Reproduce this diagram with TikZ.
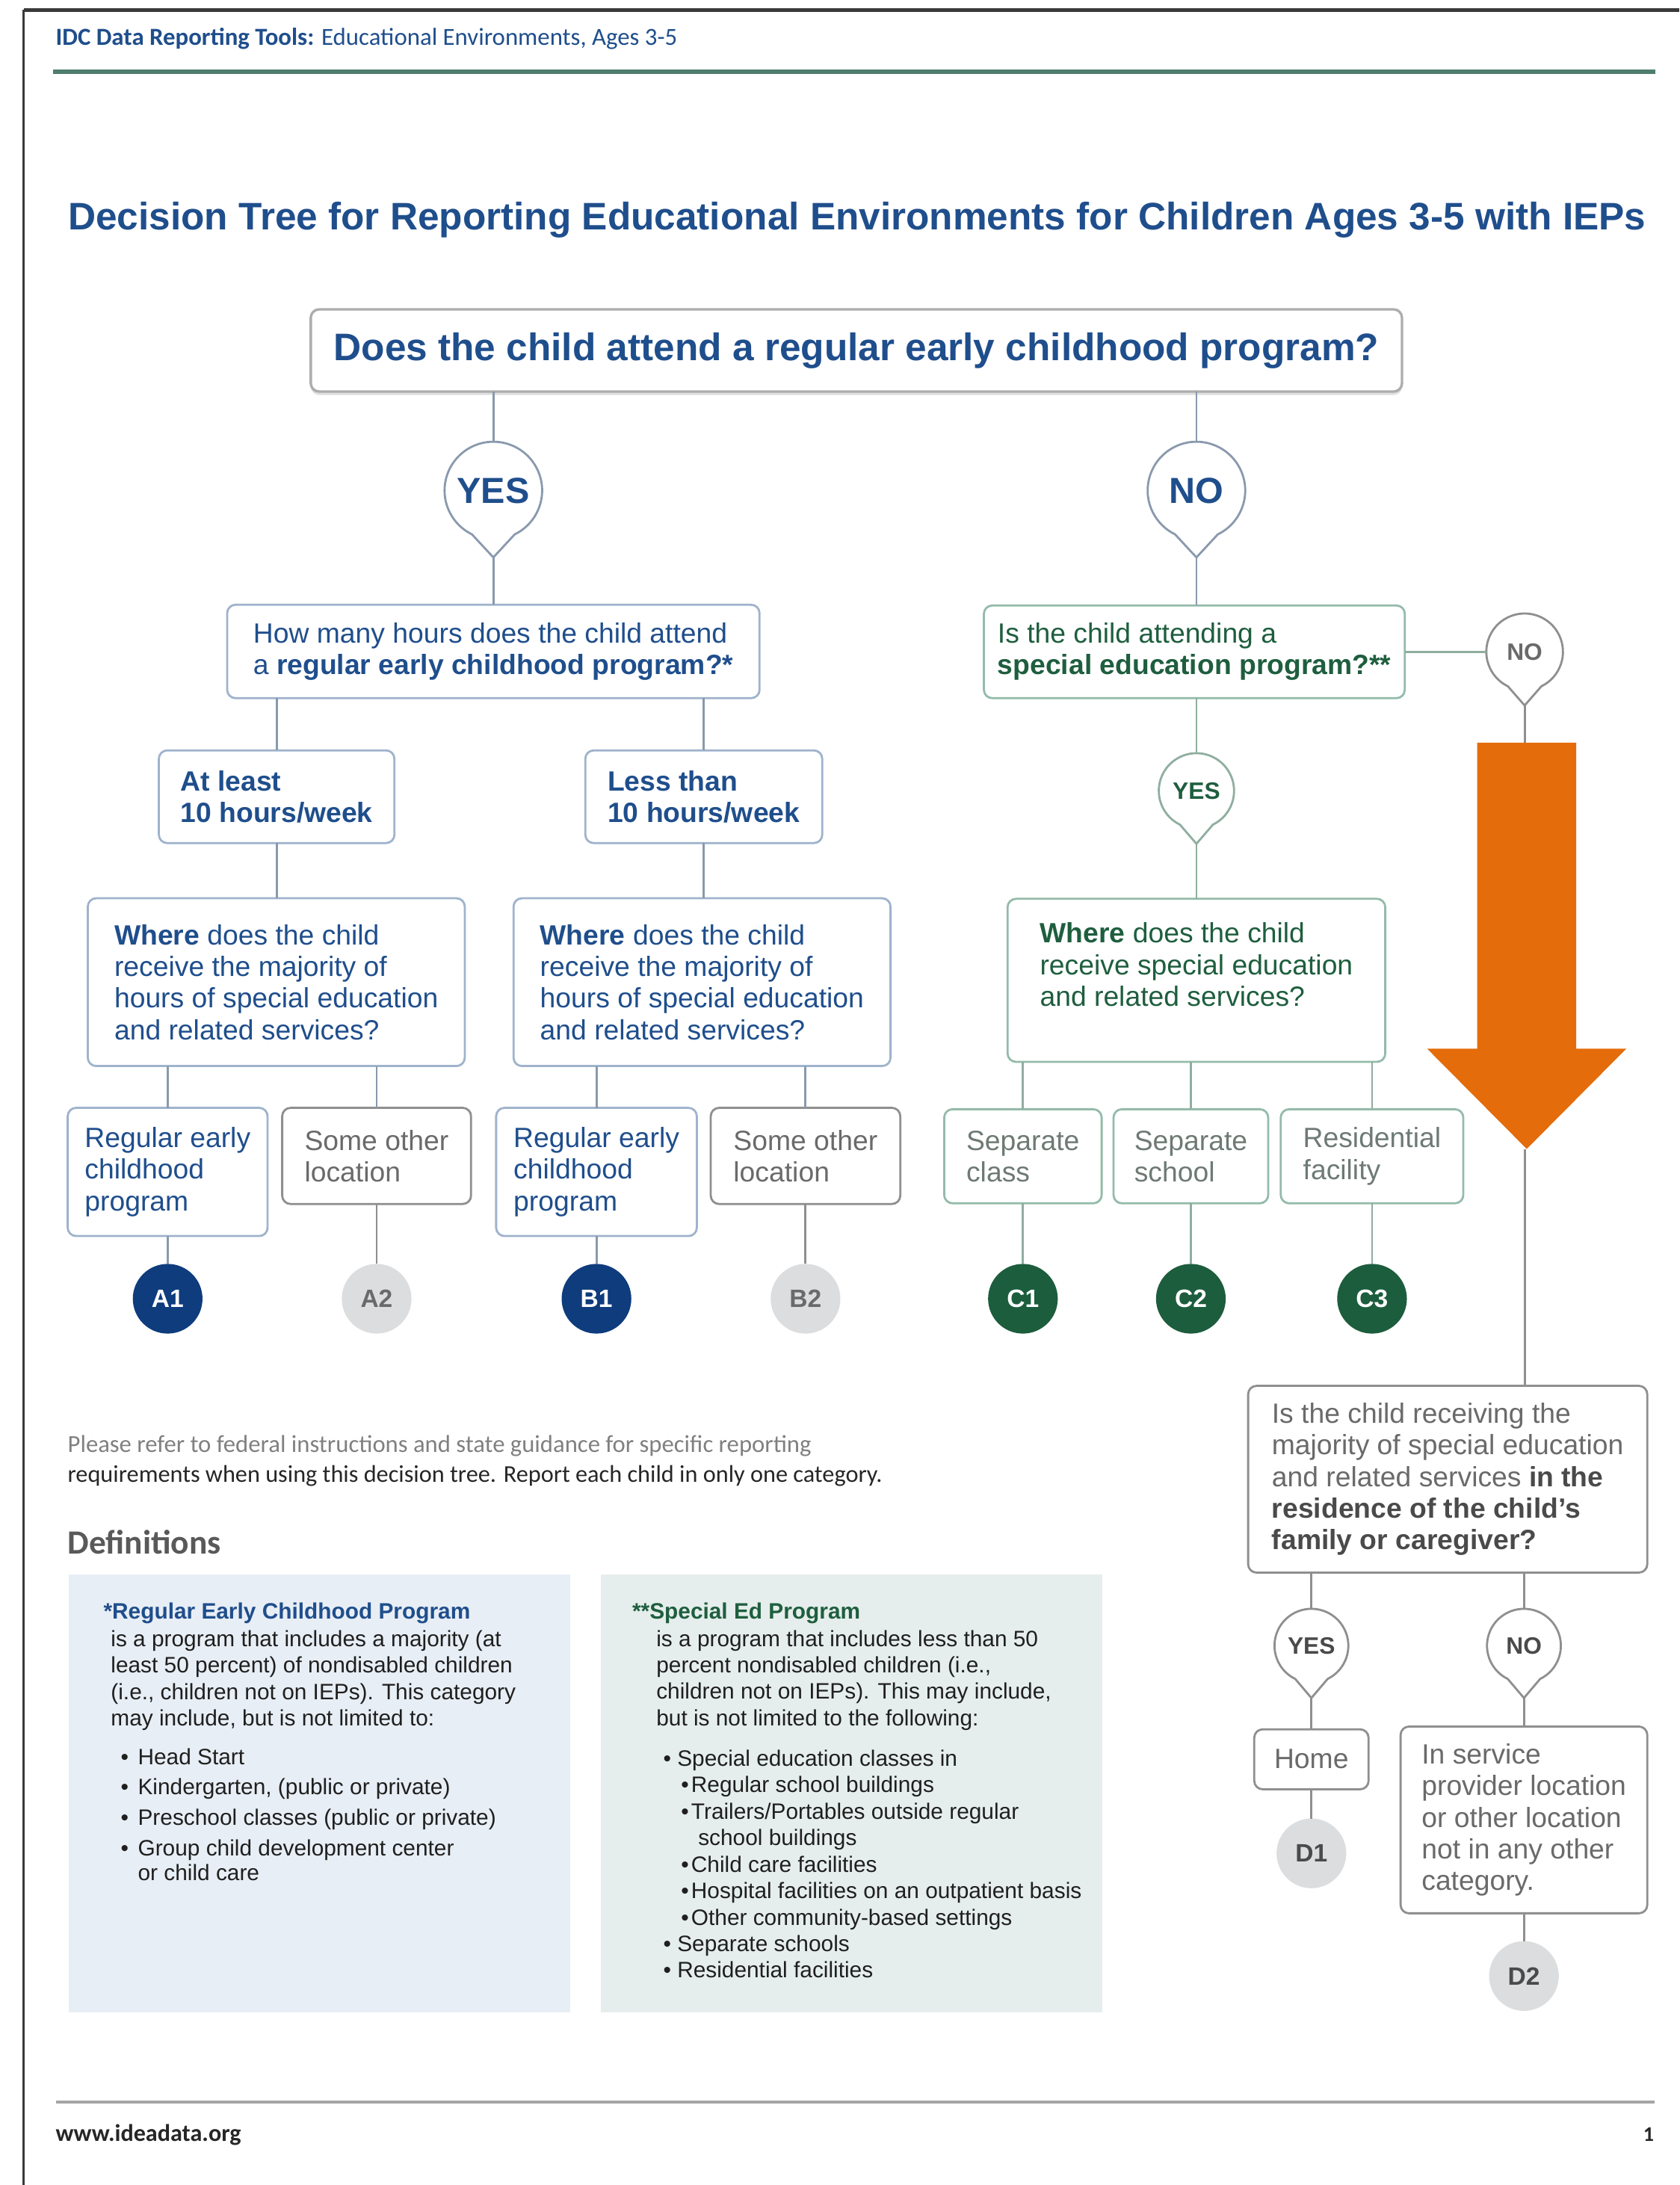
\documentclass[tikz,border=0pt]{standalone}
\usepackage{graphicx}
\usepackage{fontspec}
\setmainfont{Liberation Sans}
\newfontfamily\calib{Carlito}
\usetikzlibrary{calc,shadows}

\definecolor{navy}{HTML}{1F4E8C}
\definecolor{navyfill}{HTML}{0E3C7D}
\definecolor{bxblue}{HTML}{9FB3CC}
\definecolor{lnblue}{HTML}{8A99AD}
\definecolor{dgreen}{HTML}{1E5E3E}
\definecolor{bxgreen}{HTML}{94BBAA}
\definecolor{lngreen}{HTML}{8FAE9F}
\definecolor{greenfill}{HTML}{1C5D3D}
\definecolor{ggtext}{HTML}{6E7A74}
\definecolor{bxgray}{HTML}{8F8F8F}
\definecolor{tgray}{HTML}{6A6A6A}
\definecolor{dgray}{HTML}{4A4A4A}
\definecolor{grayfill}{HTML}{DCDDDF}
\definecolor{arrorange}{HTML}{E46C0A}
\definecolor{rulegreen}{HTML}{4E7E6C}
\definecolor{defblue}{HTML}{E8EEF5}
\definecolor{defgreen}{HTML}{E5EEEC}
\definecolor{frame}{HTML}{3A3A3A}

\newcommand{\bubbleoutline}[4]{%
  \coordinate (#1tip) at ($(#1.south)+(0,-#3)$);
  \draw[#4, line width=1.5pt, line join=round] (#1.-64) arc[start angle=-64, end angle=244, radius=#2pt] -- (#1tip) -- cycle;
}

\begin{document}
\begin{tikzpicture}[x=1pt,y=1pt,
  every node/.style={inner sep=0pt, outer sep=0pt},
  bx/.style={rounded corners=6pt, line width=1.5pt, fill=white, align=left, font=\fontsize{20}{22.7}\selectfont},
  bluebx/.style={bx, draw=bxblue, text=navy},
  greenbx/.style={bx, draw=bxgreen, text=dgreen},
  graybx/.style={bx, draw=bxgray, text=tgray},
  res/.style={circle, minimum size=50pt, font=\bfseries\fontsize{18}{18}\selectfont},
  bub/.style={circle, minimum size=#1},
  bigbub/.style={bub=70pt, text=navy, font=\bfseries\fontsize{26}{26}\selectfont},
  smallbub/.style={bub=#1, font=\bfseries\fontsize{17}{17}\selectfont},
  cb/.style={line width=1.5pt, draw=lnblue},
  cg/.style={line width=1.5pt, draw=lngreen},
  cgr/.style={line width=1.5pt, draw=bxgray},
  deftext/.style={align=left, text=black!88, font=\fontsize{16}{19}\selectfont}
]
\useasboundingbox (0,0) rectangle (1205,-1568);
\fill[white] (0,0) rectangle (1205,-1568);

% page frame and rules
\draw[line width=2.7pt, frame] (17,-7) -- (1205,-7);
\draw[line width=1.5pt, frame] (17,-7) -- (17,-1568);
\draw[line width=3.5pt, rulegreen] (38,-51.5) -- (1188,-51.5);
\draw[line width=2pt, black!35] (40,-1508.6) -- (1187,-1508.6);

% header, title, footer
\node[anchor=west] (header) at (40,-27.7) {\resizebox{446pt}{!}{\calib\color{navy}\textbf{IDC Data Reporting Tools:} Educational Environments, Ages 3-5}};
\node (title) at (615,-158) {\resizebox{1132pt}{!}{\bfseries\color{navy}Decision Tree for Reporting Educational Environments for Children Ages 3-5 with IEPs}};
\node[anchor=west] (url) at (40,-1532) {\resizebox{133pt}{!}{\calib\bfseries\color{black!85}www.ideadata.org}};
\node (pagenum) at (1183,-1532) {\calib\bfseries\fontsize{15}{15}\selectfont\color{black!85}1};

% top question
\node[bx, draw=black!32, text=navy, line width=1.8pt, minimum width=783pt, minimum height=59pt,
      drop shadow={opacity=0.25, shadow xshift=0pt, shadow yshift=-2.5pt}] (q0) at (614.5,-251.5)
      {\resizebox{750pt}{!}{\bfseries Does the child attend a regular early childhood program?}};

% YES / NO bubbles under the top question
\node[bigbub] (yes0) at (354,-352) {YES};
\bubbleoutline{yes0}{35}{13}{lnblue}
\node[bigbub] (no0) at (858.5,-352) {NO};
\bubbleoutline{no0}{35}{13}{lnblue}
\draw[cb] (q0.south -| yes0) -- (yes0.north);
\draw[cb] (q0.south -| no0) -- (no0.north);

% ---------- left (YES) branch ----------
\node[bluebx, minimum width=382pt, minimum height=67pt] (qhours) at (354,-467.5)
  {How many hours does the child attend\\a \textbf{regular early childhood program?*}};
\node[bluebx, font=\bfseries\fontsize{20}{22.7}\selectfont, minimum width=169pt, minimum height=66.5pt] (atleast) at (198.5,-571.75)
  {At least\\10 hours/week};
\node[bluebx, font=\bfseries\fontsize{20}{22.7}\selectfont, minimum width=170pt, minimum height=66.5pt] (lessthan) at (505,-571.75)
  {Less than\\10 hours/week};
\node[bluebx, minimum width=270.5pt, minimum height=120.4pt] (whereA) at (198.25,-704.8)
  {\textbf{Where} does the child\\receive the majority of\\hours of special education\\and related services?};
\node[bluebx, minimum width=270.5pt, minimum height=120.4pt] (whereB) at (503.75,-704.8)
  {\textbf{Where} does the child\\receive the majority of\\hours of special education\\and related services?};
\node[bluebx, minimum width=143.4pt, minimum height=92pt] (a1box) at (120.3,-841)
  {Regular early\\childhood\\program};
\node[graybx, minimum width=135.5pt, minimum height=69pt] (a2box) at (270.25,-829.5)
  {Some other\\location};
\node[bluebx, minimum width=144pt, minimum height=92pt] (b1box) at (428,-841)
  {Regular early\\childhood\\program};
\node[graybx, minimum width=136pt, minimum height=69pt] (b2box) at (578,-829.5)
  {Some other\\location};

\node[res, fill=navyfill, text=white] (A1) at (120.3,-932) {A1};
\node[res, fill=grayfill, text=tgray] (A2) at (270.25,-932) {A2};
\node[res, fill=navyfill, text=white] (B1) at (428,-932) {B1};
\node[res, fill=grayfill, text=tgray] (B2) at (578,-932) {B2};

\draw[cb] (yes0tip) -- (qhours.north);
\draw[cb] (qhours.south -| atleast) -- (atleast.north);
\draw[cb] (qhours.south -| lessthan) -- (lessthan.north);
\draw[cb] (atleast.south) -- (atleast.south |- whereA.north);
\draw[cb] (lessthan.south) -- (lessthan.south |- whereB.north);
\draw[cb] (whereA.south -| a1box) -- (a1box.north);
\draw[cb] (whereA.south -| a2box) -- (a2box.north);
\draw[cb] (whereB.south -| b1box) -- (b1box.north);
\draw[cb] (whereB.south -| b2box) -- (b2box.north);
\draw[cb] (a1box.south) -- (A1.north);
\draw[cgr] (a2box.south) -- (A2.north);
\draw[cb] (b1box.south) -- (B1.north);
\draw[cgr] (b2box.south) -- (B2.north);

% ---------- right (NO) branch ----------
\node[greenbx, minimum width=302pt, minimum height=66.5pt] (qspecial) at (857,-467.75)
  {Is the child attending a\\\textbf{special education program?**}};
\draw[cb] (no0tip) -- (qspecial.north -| no0);

\node[smallbub=54pt, text=dgreen] (yesS) at (858.5,-567.5) {YES};
\bubbleoutline{yesS}{27}{11}{lngreen}
\node[smallbub=55pt, text=tgray] (noS) at (1094,-467.75) {NO};
\bubbleoutline{noS}{27.5}{11}{bxgray}

\draw[cg] (qspecial.south -| yesS) -- (yesS.north);
\draw[cg] (qspecial.east) -- (noS.west);

\node[greenbx, minimum width=271pt, minimum height=117pt] (whereC) at (858.5,-703.5)
  {\textbf{Where} does the child\\receive special education\\and related services?\\\mbox{}};
\draw[cg] (yesStip) -- (yesStip |- whereC.north);

\node[bx, draw=bxgreen, text=ggtext, minimum width=113pt, minimum height=67.5pt] (c1box) at (734,-829.75) {Separate\\class};
\node[bx, draw=bxgreen, text=ggtext, minimum width=111pt, minimum height=67.5pt] (c2box) at (854.5,-829.75) {Separate\\school};
\node[bx, draw=bxgreen, text=ggtext, minimum width=131pt, minimum height=67.5pt] (c3box) at (984.5,-829.75) {Residential\\facility};
\draw[cg] (whereC.south -| c1box) -- (c1box.north);
\draw[cg] (whereC.south -| c2box) -- (c2box.north);
\draw[cg] (whereC.south -| c3box) -- (c3box.north);

\node[res, fill=greenfill, text=white] (C1) at (734,-932) {C1};
\node[res, fill=greenfill, text=white] (C2) at (854.5,-932) {C2};
\node[res, fill=greenfill, text=white] (C3) at (984.5,-932) {C3};
\draw[cg] (c1box.south) -- (C1.north);
\draw[cg] (c2box.south) -- (C2.north);
\draw[cg] (c3box.south) -- (C3.north);

% big orange arrow
\coordinate (arrtop) at (1095.5,-533);
\coordinate (arrtip) at (1095.5,-824.5);
\draw[cgr] (noStip) -- (noStip |- arrtop);
\fill[arrorange] (1060,-533) -- (1131,-533) -- (1131,-752.5) -- (1167,-752.5) -- (arrtip) -- (1024,-752.5) -- (1060,-752.5) -- cycle;

% ---------- D part ----------
\node[graybx, minimum width=286.4pt, minimum height=134pt] (qhome) at (1038.8,-1061.5)
  {Is the child receiving the\\majority of special education\\and related services \textcolor{dgray}{\textbf{in the}}\\\textcolor{dgray}{\textbf{residence of the child's}}\\\textcolor{dgray}{\textbf{family or caregiver?}}};
\draw[cgr] (noStip |- arrtip) -- (noStip |- qhome.north);

\node[smallbub=53pt, text=dgray] (yesD) at (941,-1181) {YES};
\bubbleoutline{yesD}{26.5}{11}{bxgray}
\node[smallbub=53pt, text=dgray] (noD) at (1093.5,-1181) {NO};
\bubbleoutline{noD}{26.5}{11}{bxgray}
\draw[cgr] (qhome.south -| yesD) -- (yesD.north);
\draw[cgr] (qhome.south -| noD) -- (noD.north);

\node[graybx, minimum width=82pt, minimum height=43pt] (home) at (941,-1262.5) {Home};
\node[graybx, minimum width=177pt, minimum height=134pt] (inservice) at (1093.5,-1306)
  {In service\\provider location\\or other location\\not in any other\\category.};
\draw[cgr] (yesDtip) -- (home.north);
\draw[cgr] (noDtip) -- (inservice.north);

\node[res, fill=grayfill, text=dgray] (D1) at (941,-1330) {D1};
\node[res, fill=grayfill, text=dgray] (D2) at (1093.5,-1418) {D2};
\draw[cgr] (home.south) -- (D1.north);
\draw[cgr] (inservice.south) -- (D2.north);

% ---------- notes and definitions ----------
\node[anchor=west] (note1) at (48.6,-1037.7) {\resizebox{533.5pt}{!}{\calib\color{black!50}Please refer to federal instructions and state guidance for specific reporting}};
\node[anchor=west] (note2) at (48.6,-1059) {\resizebox{584.5pt}{!}{\calib\color{black!85}requirements when using this decision tree. Report each child in only one category.}};
\node[anchor=west] (defhead) at (48.6,-1106.5) {\resizebox{110pt}{!}{\calib\bfseries\color{black!65}Definitions}};

\node[fill=defblue, minimum width=359.4pt, minimum height=314pt, anchor=north west] (defL) at (49.6,-1130) {};
\node[fill=defgreen, minimum width=360pt, minimum height=314pt, anchor=north west] (defR) at (431,-1130) {};

\node[deftext, anchor=north west] (defLt) at (74.3,-1150)
  {\textcolor{navy}{\bfseries *Regular Early Childhood Program}\\[1pt]
   \hspace*{5.3pt}is a program that includes a majority (at\\
   \hspace*{5.3pt}least 50 percent) of nondisabled children\\
   \hspace*{5.3pt}(i.e., children not on IEPs). This category\\
   \hspace*{5.3pt}may include, but is not limited to:\\[8.6pt]
   \hspace*{12.4pt}\makebox[12.3pt][l]{\textbullet}Head Start\\[2.8pt]
   \hspace*{12.4pt}\makebox[12.3pt][l]{\textbullet}Kindergarten, (public or private)\\[2.8pt]
   \hspace*{12.4pt}\makebox[12.3pt][l]{\textbullet}Preschool classes (public or private)\\[3pt]
   \hspace*{12.4pt}\makebox[12.3pt][l]{\textbullet}Group child development center\\[-1.6pt]
   \hspace*{24.7pt}or child care};

\node[deftext, anchor=north west] (defRt) at (453.7,-1150)
  {\textcolor{dgreen}{\bfseries **Special Ed Program}\\[0.8pt]
   \hspace*{17.3pt}is a program that includes less than 50\\
   \hspace*{17.3pt}percent nondisabled children (i.e.,\\
   \hspace*{17.3pt}children not on IEPs). This may include,\\
   \hspace*{17.3pt}but is not limited to the following:\\[10pt]
   \hspace*{22.3pt}\makebox[10pt][l]{\textbullet}Special education classes in\\
   \hspace*{35pt}\makebox[7.3pt][l]{\textbullet}Regular school buildings\\
   \hspace*{35pt}\makebox[7.3pt][l]{\textbullet}Trailers/Portables outside regular\\
   \hspace*{47.3pt}school buildings\\
   \hspace*{35pt}\makebox[7.3pt][l]{\textbullet}Child care facilities\\
   \hspace*{35pt}\makebox[7.3pt][l]{\textbullet}Hospital facilities on an outpatient basis\\
   \hspace*{35pt}\makebox[7.3pt][l]{\textbullet}Other community-based settings\\
   \hspace*{22.3pt}\makebox[10pt][l]{\textbullet}Separate schools\\
   \hspace*{22.3pt}\makebox[10pt][l]{\textbullet}Residential facilities};
\end{tikzpicture}
\end{document}
